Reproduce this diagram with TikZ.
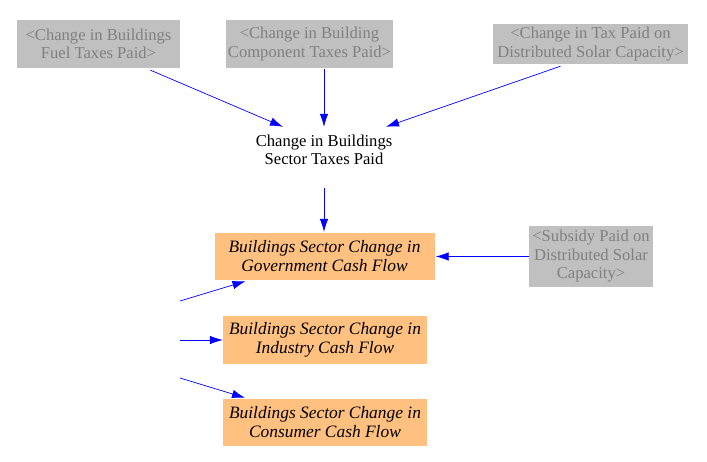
\documentclass[tikz,border=0pt]{standalone}
\usepackage{fontspec}
\setmainfont{Liberation Serif}
\usetikzlibrary{arrows.meta}
\definecolor{ghostgray}{RGB}{192,192,192}
\definecolor{ghosttext}{RGB}{128,128,128}
\definecolor{flowbox}{RGB}{255,192,128}
\begin{document}
\begin{tikzpicture}[x=1pt,y=-1pt,
  txt/.style={font=\fontsize{16.6}{18.5}\selectfont,align=center,inner sep=0pt},
  ghost/.style={txt,fill=ghostgray,text=ghosttext},
  flow/.style={txt,fill=flowbox,font=\fontsize{17.4}{19}\selectfont\itshape},
  link/.style={draw=blue,line width=0.7pt,-{Latex[length=13pt,width=8.5pt]}}]
\useasboundingbox (0,0) rectangle (707,462);
\node[ghost,minimum width=163pt,minimum height=48pt] (fuel) at (98.5,44) {<Change in Buildings\\Fuel Taxes Paid>};
\node[ghost,minimum width=167pt,minimum height=48pt] (comp) at (309.5,44) {<Change in Building\\Component Taxes Paid>};
\node[ghost,minimum width=195pt,minimum height=40pt] (solar) at (590.5,44) {<Change in Tax Paid on\\Distributed Solar Capacity>};
\node[txt,minimum width=130pt,minimum height=58pt] (taxes) at (324,150) {Change in Buildings\\Sector Taxes Paid};
\node[flow,minimum width=220pt,minimum height=47pt] (gov) at (324.5,256.5) {Buildings Sector Change in\\Government Cash Flow};
\node[ghost,minimum width=124pt,minimum height=61pt] (subsidy) at (591,256.5) {<Subsidy Paid on\\Distributed Solar\\Capacity>};
\node[flow,minimum width=204pt,minimum height=48pt] (ind) at (325,340) {Buildings Sector Change in\\Industry Cash Flow};
\node[flow,minimum width=204pt,minimum height=47pt] (cons) at (325,422.5) {Buildings Sector Change in\\Consumer Cash Flow};
\coordinate (l1) at (180,301);
\coordinate (l2) at (180,340);
\coordinate (l3) at (180,378);
\draw[link] ([xshift=52pt,yshift=-2pt]fuel.south) -- ([xshift=-41pt,yshift=-6pt]taxes.north);
\draw[link] ([yshift=-1pt]comp.south -| taxes.north) -- ([yshift=-6pt]taxes.north);
\draw[link] ([xshift=-30pt,yshift=-2pt]solar.south) -- ([xshift=62pt,yshift=-6pt]taxes.north);
\draw[link] ([yshift=-9pt]taxes.south) -- ([yshift=1pt]gov.north -| taxes.south);
\draw[link] (subsidy.west) -- ([xshift=1pt]gov.east);
\draw[link] (l1) -- ([xshift=-79pt,yshift=-1pt]gov.south);
\draw[link] (l2) -- (ind.west);
\draw[link] (l3) -- ([xshift=-80pt,yshift=1pt]cons.north);
\end{tikzpicture}
\end{document}
